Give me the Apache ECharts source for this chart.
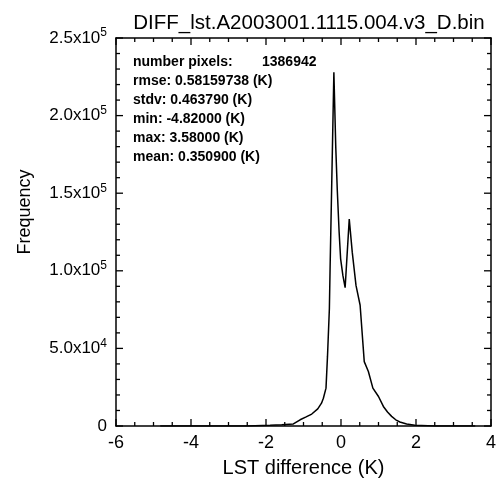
<!DOCTYPE html>
<html><head><meta charset="utf-8">
<script src="https://cdn.jsdelivr.net/npm/echarts@6/dist/echarts.min.js"></script>
<style>body{margin:0} .c{width:499px;height:483px}</style>
</head><body>
<div class="c" id="c0"></div>
<script>
// ---- data ----
var titleText = "DIFF_lst.A2003001.1115.004.v3_D.bin";
var xName = "LST difference (K)";
var yName = "Frequency";
var lstDiff = [-4.82, -2.5, -1.89, -1.58, -1.27, -1.09, -0.93, -0.78, -0.62, -0.52, -0.47, -0.4, -0.36, -0.31, -0.29, -0.25, -0.19, -0.14, -0.1, -0.05, -0.01, 0.05, 0.11, 0.22, 0.3, 0.4, 0.51, 0.62, 0.73, 0.85, 1.0, 1.13, 1.24, 1.35, 1.46, 1.57, 1.75, 1.97, 2.5, 3.58];
var frequency = [0, 0, 450, 850, 1300, 4000, 5900, 7700, 11000, 14700, 17900, 24400, 45000, 75600, 103000, 152600, 228000, 180000, 152600, 125000, 107700, 97000, 89100, 133300, 112000, 90600, 77800, 41500, 35100, 24400, 19000, 12600, 9000, 6200, 4000, 2600, 1300, 450, 0, 0];
var xTicks = [-6, -4, -2, 0, 2, 4];
var xMinorTicks = [-5.5, -5, -4.5, -3.5, -3, -2.5, -1.5, -1, -0.5, 0.5, 1, 1.5, 2.5, 3, 3.5];
var yTicks = [0, 50000, 100000, 150000, 200000, 250000];
var yMinorTicks = [10000, 20000, 30000, 40000, 60000, 70000, 80000, 90000, 110000, 120000, 130000, 140000, 160000, 170000, 180000, 190000, 210000, 220000, 230000, 240000];
var yTickMantissa = ["0", "5.0", "1.0", "1.5", "2.0", "2.5"];
var yTickExponent = ["", "4", "5", "5", "5", "5"];
var statNames = ["number pixels:", "rmse:", "stdv:", "min:", "max:", "mean:"];
var statValues = ["1386942", "0.58159738 (K)", "0.463790 (K)", "-4.82000 (K)", "3.58000 (K)", "0.350900 (K)"];

// ---- chart ----
function yLabel(v) {
  var i = yTicks.indexOf(v);
  if (i < 0) return '';
  if (!yTickExponent[i]) return yTickMantissa[i];
  return yTickMantissa[i] + 'x10{sup|' + yTickExponent[i] + '}';
}
function axLine() { return {show: true, onZero: false, lineStyle: {color: '#000', width: 1.5}}; }

var statFont = 'bold 14px "Liberation Sans"';
var graphics = [];
statNames.forEach(function (n, i) {
  var y = 63 + i * 19;
  if (i === 0) {
    graphics.push({type: 'text', left: 133, top: y - 8, style: {text: n, font: statFont, fill: '#000'}});
    graphics.push({type: 'text', left: 262, top: y - 8, style: {text: statValues[i], font: statFont, fill: '#000'}});
  } else {
    graphics.push({type: 'text', left: 133, top: y - 8, style: {text: n + ' ' + statValues[i], font: statFont, fill: '#000'}});
  }
});

// tick marks on all four sides, placed through the axes' own scales
var tickData = [];
xTicks.forEach(function (v) { tickData.push([v, 0, 0]); });
xMinorTicks.forEach(function (v) { tickData.push([v, 0, 1]); });
yTicks.forEach(function (v) { tickData.push([-6, v, 2]); });
yMinorTicks.forEach(function (v) { tickData.push([-6, v, 3]); });

function renderTick(params, api) {
  var cs = params.coordSys;
  var kind = api.value(2);
  var children = [];
  function ln(x1, y1, x2, y2) {
    children.push({type: 'line', shape: {x1: x1, y1: y1, x2: x2, y2: y2}, style: {stroke: '#000', lineWidth: 1.3}});
  }
  if (kind < 2) {
    var len = kind === 0 ? 7 : 4;
    var px = api.coord([api.value(0), 0])[0];
    var yb = cs.y + cs.height, yt = cs.y;
    ln(px, yb, px, yb - len);
    ln(px, yt, px, yt + len);
  } else {
    var len2 = kind === 2 ? 7 : 4;
    var py = api.coord([-6, api.value(1)])[1];
    var xl = cs.x, xr = cs.x + cs.width;
    ln(xl, py, xl + len2, py);
    ln(xr, py, xr - len2, py);
  }
  return {type: 'group', children: children};
}

function build() {
  var seriesData = lstDiff.map(function (x, i) { return [x, frequency[i]]; });
  return {
    backgroundColor: '#fff', animation: false,
    title: {text: titleText, left: 304, top: 8, textAlign: 'center',
      textStyle: {fontFamily: 'Liberation Sans', fontSize: 20.5, fontWeight: 'normal', color: '#000'}},
    grid: {left: 116, right: 8, top: 38, bottom: 55},
    xAxis: [
      {type: 'value', min: -6, max: 4, interval: 2, position: 'bottom', name: xName, nameLocation: 'middle', nameGap: 32,
       nameTextStyle: {fontFamily: 'Liberation Sans', fontSize: 20, color: '#000'},
       axisLine: axLine(), axisTick: {show: false}, minorTick: {show: false}, splitLine: {show: false},
       axisLabel: {show: true, margin: 8, fontFamily: 'Liberation Sans', fontSize: 18, color: '#000',
         formatter: function (v) { return xTicks.indexOf(v) >= 0 ? String(v) : ''; }}},
      {type: 'value', min: -6, max: 4, interval: 2, position: 'top', axisLine: axLine(), axisTick: {show: false}, minorTick: {show: false}, splitLine: {show: false}, axisLabel: {show: false}}
    ],
    yAxis: [
      {type: 'value', min: 0, max: 250000, interval: 50000, position: 'left', name: yName, nameLocation: 'middle', nameGap: 82, nameRotate: 90,
       nameTextStyle: {fontFamily: 'Liberation Sans', fontSize: 18, color: '#000', padding: [0, 0, 0, 40]},
       axisLine: axLine(), axisTick: {show: false}, minorTick: {show: false}, splitLine: {show: false},
       axisLabel: {show: true, margin: 9, fontFamily: 'Liberation Sans', fontSize: 17, color: '#000', formatter: yLabel,
         rich: {sup: {fontFamily: 'Liberation Sans', fontSize: 12, color: '#000', verticalAlign: 'top', padding: [0, 0, 10, 0]}}}},
      {type: 'value', min: 0, max: 250000, interval: 50000, position: 'right', axisLine: axLine(), axisTick: {show: false}, minorTick: {show: false}, splitLine: {show: false}, axisLabel: {show: false}}
    ],
    series: [
      {type: 'line', xAxisIndex: 0, yAxisIndex: 0, data: seriesData, showSymbol: false, symbol: 'none', lineStyle: {color: '#000', width: 1.5}, z: 3},
      {type: 'custom', coordinateSystem: 'cartesian2d', xAxisIndex: 0, yAxisIndex: 0, data: tickData,
       encode: {x: 0, y: 1}, renderItem: renderTick, silent: true, clip: false, z: 4}
    ],
    graphic: graphics
  };
}
echarts.init(document.getElementById('c0'), null, {renderer: 'canvas'}).setOption(build());
</script></body></html>
